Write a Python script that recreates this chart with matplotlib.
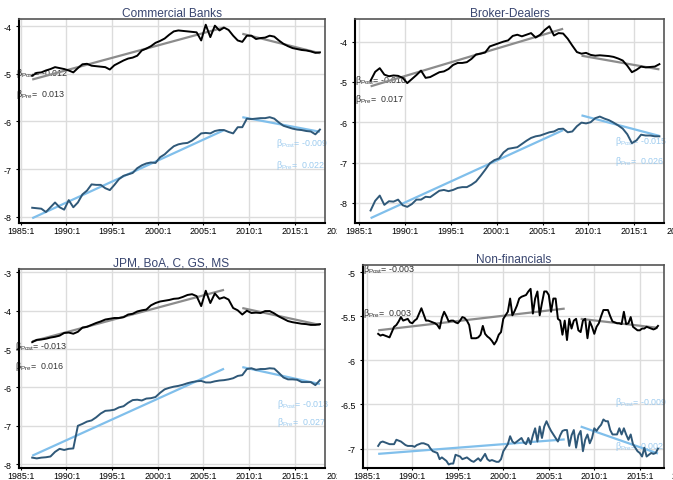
import matplotlib
matplotlib.use('Agg')
import matplotlib.pyplot as plt
import numpy as np
from matplotlib.transforms import offset_copy, Bbox, TransformedBbox

plt.rcParams['font.family'] = ['Liberation Sans', 'DejaVu Sans']
plt.rcParams['mathtext.fontset'] = 'custom'
plt.rcParams['mathtext.rm'] = 'Liberation Sans'
plt.rcParams['mathtext.it'] = 'Liberation Sans:italic'

# half-yearly observations for the bank panels, quarterly for non-financials
dates_half = 1986.25 + 0.5 * np.arange(64)
dates_nf = 1986.25 + 0.25 * np.arange(124)

cb_black = [-5.04, -4.98, -4.97, -4.93, -4.90, -4.86, -4.88, -4.90,
            -4.93, -4.97, -4.88, -4.80, -4.79, -4.83, -4.84, -4.85,
            -4.86, -4.91, -4.82, -4.77, -4.72, -4.68, -4.66, -4.62,
            -4.51, -4.47, -4.42, -4.35, -4.31, -4.26, -4.18, -4.11,
            -4.09, -4.10, -4.11, -4.12, -4.13, -4.30, -3.97, -4.23,
            -3.99, -4.09, -4.03, -4.08, -4.20, -4.30, -4.33, -4.20,
            -4.20, -4.27, -4.25, -4.24, -4.20, -4.22, -4.30, -4.37,
            -4.42, -4.46, -4.48, -4.50, -4.51, -4.53, -4.56, -4.55]
cb_blue = [-7.81, -7.82, -7.83, -7.90, -7.80, -7.70, -7.80, -7.85,
           -7.65, -7.80, -7.70, -7.53, -7.45, -7.32, -7.33, -7.33,
           -7.40, -7.44, -7.33, -7.21, -7.14, -7.11, -7.08, -6.98,
           -6.92, -6.88, -6.86, -6.87, -6.75, -6.69, -6.60, -6.52,
           -6.48, -6.46, -6.45, -6.40, -6.33, -6.25, -6.24, -6.25,
           -6.20, -6.18, -6.18, -6.22, -6.25, -6.12, -6.12, -5.94,
           -5.95, -5.94, -5.93, -5.93, -5.91, -5.94, -6.02, -6.09,
           -6.12, -6.15, -6.17, -6.18, -6.20, -6.21, -6.27, -6.17]

bd_black = [-4.97, -4.75, -4.66, -4.82, -4.86, -4.84, -4.85, -4.90,
            -5.03, -4.93, -4.83, -4.72, -4.90, -4.88, -4.82, -4.76,
            -4.74, -4.68, -4.58, -4.53, -4.53, -4.51, -4.43, -4.32,
            -4.30, -4.27, -4.12, -4.08, -4.04, -4.00, -3.97, -3.86,
            -3.83, -3.87, -3.83, -3.79, -3.90, -3.83, -3.71, -3.62,
            -3.85, -3.79, -3.80, -3.93, -4.10, -4.26, -4.30, -4.28,
            -4.33, -4.35, -4.34, -4.35, -4.36, -4.38, -4.42, -4.47,
            -4.60, -4.76, -4.70, -4.62, -4.64, -4.63, -4.62, -4.56]
bd_blue = [-8.19, -7.95, -7.82, -8.05, -7.96, -7.97, -7.92, -8.06,
           -8.10, -8.03, -7.92, -7.92, -7.85, -7.86, -7.78, -7.70,
           -7.68, -7.71, -7.68, -7.63, -7.61, -7.61, -7.55, -7.47,
           -7.33, -7.18, -7.02, -6.94, -6.90, -6.75, -6.66, -6.64,
           -6.62, -6.54, -6.46, -6.39, -6.35, -6.33, -6.29, -6.25,
           -6.23, -6.17, -6.16, -6.25, -6.23, -6.10, -6.01, -6.03,
           -6.00, -5.90, -5.86, -5.91, -5.95, -6.01, -6.08, -6.16,
           -6.30, -6.52, -6.45, -6.31, -6.33, -6.33, -6.35, -6.35]

big5_black = [-4.82, -4.76, -4.75, -4.73, -4.70, -4.68, -4.65, -4.58,
              -4.57, -4.60, -4.55, -4.44, -4.42, -4.37, -4.32, -4.28,
              -4.23, -4.21, -4.19, -4.19, -4.17, -4.10, -4.08, -4.02,
              -3.99, -3.97, -3.86, -3.80, -3.76, -3.74, -3.72, -3.69,
              -3.68, -3.64, -3.59, -3.57, -3.62, -3.88, -3.48, -3.80,
              -3.55, -3.69, -3.65, -3.71, -3.93, -3.99, -4.10, -4.00,
              -4.06, -4.05, -4.06, -4.01, -4.01, -4.07, -4.15, -4.21,
              -4.27, -4.30, -4.32, -4.34, -4.35, -4.37, -4.37, -4.35]
big5_blue = [-7.83, -7.85, -7.83, -7.82, -7.80, -7.68, -7.60, -7.63,
             -7.60, -7.59, -7.00, -6.95, -6.89, -6.86, -6.78, -6.68,
             -6.61, -6.60, -6.58, -6.52, -6.49, -6.40, -6.33, -6.32,
             -6.34, -6.29, -6.28, -6.25, -6.14, -6.05, -6.01, -5.98,
             -5.96, -5.93, -5.89, -5.86, -5.84, -5.83, -5.87, -5.87,
             -5.84, -5.82, -5.81, -5.79, -5.76, -5.70, -5.68, -5.52,
             -5.50, -5.54, -5.52, -5.52, -5.50, -5.51, -5.62, -5.74,
             -5.79, -5.79, -5.80, -5.86, -5.86, -5.86, -5.94, -5.81]

nf_black = [-5.70, -5.72, -5.71, -5.72, -5.73, -5.74, -5.68, -5.62,
            -5.60, -5.56, -5.51, -5.55, -5.54, -5.53, -5.57, -5.58,
            -5.55, -5.53, -5.47, -5.41, -5.48, -5.55, -5.55, -5.56,
            -5.57, -5.58, -5.60, -5.64, -5.52, -5.45, -5.50, -5.56,
            -5.55, -5.55, -5.57, -5.58, -5.55, -5.51, -5.52, -5.55,
            -5.60, -5.75, -5.75, -5.75, -5.74, -5.71, -5.61, -5.70,
            -5.73, -5.75, -5.78, -5.82, -5.78, -5.71, -5.68, -5.53,
            -5.49, -5.45, -5.30, -5.49, -5.44, -5.38, -5.30, -5.28,
            -5.27, -5.26, -5.22, -5.19, -5.47, -5.30, -5.22, -5.49,
            -5.35, -5.22, -5.22, -5.26, -5.45, -5.30, -5.30, -5.53,
            -5.55, -5.71, -5.55, -5.77, -5.53, -5.64, -5.55, -5.53,
            -5.66, -5.68, -5.55, -5.53, -5.75, -5.56, -5.62, -5.70,
            -5.62, -5.58, -5.50, -5.43, -5.43, -5.43, -5.50, -5.56,
            -5.57, -5.58, -5.58, -5.59, -5.45, -5.59, -5.58, -5.51,
            -5.62, -5.64, -5.66, -5.66, -5.64, -5.64, -5.62, -5.63,
            -5.64, -5.65, -5.64, -5.61]
nf_blue = [-6.97, -6.93, -6.92, -6.93, -6.94, -6.95, -6.95, -6.95,
           -6.90, -6.91, -6.92, -6.94, -6.96, -6.97, -6.97, -6.97,
           -6.98, -6.96, -6.95, -6.94, -6.94, -6.95, -6.96, -7.00,
           -7.03, -7.04, -7.05, -7.12, -7.10, -7.12, -7.14, -7.18,
           -7.17, -7.17, -7.07, -7.08, -7.09, -7.12, -7.11, -7.10,
           -7.12, -7.14, -7.15, -7.13, -7.11, -7.14, -7.10, -7.06,
           -7.12, -7.14, -7.13, -7.14, -7.15, -7.15, -7.12, -7.03,
           -6.99, -6.95, -6.86, -6.92, -6.94, -6.92, -6.90, -6.88,
           -6.93, -6.95, -6.88, -6.95, -6.85, -6.77, -6.92, -6.75,
           -6.88, -6.75, -6.69, -6.75, -6.80, -6.84, -6.88, -6.92,
           -6.85, -6.80, -6.79, -6.79, -6.97, -6.85, -6.79, -6.99,
           -6.85, -6.80, -7.03, -6.90, -6.84, -6.94, -6.88, -6.77,
           -6.80, -6.76, -6.73, -6.67, -6.69, -6.69, -6.79, -6.84,
           -6.84, -6.84, -6.77, -6.84, -6.77, -6.84, -6.90, -6.84,
           -6.95, -6.99, -7.03, -7.05, -7.09, -6.99, -7.09, -7.07,
           -7.05, -7.06, -7.05, -7.00]

titles = ['Commercial Banks', 'Broker-Dealers', 'JPM, BoA, C, GS, MS', 'Non-financials']

# quarterly trend slopes and the level each trend starts from
beta_pre_black = [0.013, 0.017, 0.016, 0.003]
beta_post_black = [-0.012, -0.010, -0.013, -0.003]
beta_pre_blue = [0.022, 0.026, 0.027, 0.002]
beta_post_blue = [-0.009, -0.015, -0.013, -0.009]
start_pre_black = [-5.12, -5.11, -4.80, -5.66]
start_post_black = [-4.16, -4.35, -3.93, -5.53]
start_pre_blue = [-8.03, -8.38, -7.78, -7.06]
start_post_blue = [-5.91, -5.83, -5.47, -6.75]

DARK_BLUE = '#2f5878'
LIGHT_BLUE = '#80bfeb'
TREND_GRAY = '#8c8c8c'
LABEL_GRAY = '#333333'
LABEL_BLUE = '#9dcbef'
TITLE_COL = '#38456f'
FS = 6.4

W, H = 673.0, 481.0


def rect(left, right, top, bottom):
    return [left / W, 1 - bottom / H, (right - left) / W, (bottom - top) / H]


panels = [
    dict(rect=rect(18.5, 324.5, 20, 224), xlim=(1984.75, 2018.25), ylim=(-8.13, -3.85),
         yticks=[-8, -7, -6, -5, -4], dates=dates_half, black=cb_black, blue=cb_blue,
         pre=(1986.25, 2007.25), post=(2009.25, 2017.75),
         lab_black=(1984.48, -4.97, -5.42), lab_blue=(2012.95, -6.44, -6.9), clip=336.5),
    dict(rect=rect(355, 664, 20, 224), xlim=(1984.55, 2018.25), ylim=(-8.5, -3.44),
         yticks=[-8, -7, -6, -5, -4], dates=dates_half, black=bd_black, blue=bd_blue,
         pre=(1986.25, 2007.25), post=(2009.25, 2017.75),
         lab_black=(1984.6, -4.93, -5.40), lab_blue=(2012.9, -6.45, -6.95), clip=None),
    dict(rect=rect(18.5, 324.5, 269.5, 469), xlim=(1984.75, 2018.25), ylim=(-8.1, -2.9),
         yticks=[-8, -7, -6, -5, -4, -3], dates=dates_half, black=big5_black, blue=big5_blue,
         pre=(1986.25, 2007.25), post=(2009.25, 2017.75),
         lab_black=(1984.4, -4.92, -5.42), lab_blue=(2013.0, -6.42, -6.89), clip=336.5),
    dict(rect=rect(362.7, 664, 266, 469), xlim=(1984.55, 2017.66), ylim=(-7.22, -4.92),
         yticks=[-7, -6.5, -6, -5.5, -5], dates=dates_nf, black=nf_black, blue=nf_blue,
         pre=(1986.25, 2006.75), post=(2008.5, 2017.0),
         lab_black=(1984.6, -4.955, -5.46), lab_blue=(2012.3, -6.47, -6.96), clip=None),
]

fig = plt.figure(figsize=(6.73, 4.81), dpi=100)

for i, p in enumerate(panels):
    ax = fig.add_axes(p['rect'])
    ax.set_xlim(*p['xlim'])
    ax.set_ylim(*p['ylim'])

    # pre- and post-crisis linear trends, slope given per quarter
    for (t0, t1), a, b, col in [(p['pre'], start_pre_black[i], beta_pre_black[i], TREND_GRAY),
                                (p['post'], start_post_black[i], beta_post_black[i], TREND_GRAY),
                                (p['pre'], start_pre_blue[i], beta_pre_blue[i], LIGHT_BLUE),
                                (p['post'], start_post_blue[i], beta_post_blue[i], LIGHT_BLUE)]:
        xs = np.array([t0, t1])
        ax.plot(xs, a + b * 4 * (xs - t0), color=col, lw=1.6, zorder=3, solid_capstyle='butt')

    ax.plot(p['dates'], p['black'], color='black', lw=1.4, zorder=4)
    ax.plot(p['dates'], p['blue'], color=DARK_BLUE, lw=1.4, zorder=4)

    xb, yb1, yb2 = p['lab_black']
    ax.text(xb, yb1, r'$\mathrm{\beta}_{\mathrm{Post}}$= %.3f' % beta_post_black[i],
            color=LABEL_GRAY, fontsize=FS, va='center', ha='left', zorder=2, clip_on=False)
    ax.text(xb, yb2, r'$\mathrm{\beta}_{\mathrm{Pre}}$=  %.3f' % beta_pre_black[i],
            color=LABEL_GRAY, fontsize=FS, va='center', ha='left', zorder=2, clip_on=False)
    xl, yl1, yl2 = p['lab_blue']
    ax.text(xl, yl1, r'$\mathrm{\beta}_{\mathrm{Post}}$= %.3f' % beta_post_blue[i],
            color=LABEL_BLUE, fontsize=FS, va='center', ha='left', zorder=2, clip_on=False)
    ax.text(xl, yl2, r'$\mathrm{\beta}_{\mathrm{Pre}}$=  %.3f' % beta_pre_blue[i],
            color=LABEL_BLUE, fontsize=FS, va='center', ha='left', zorder=2, clip_on=False)

    years = list(range(1985, 2020, 5))
    ax.set_xticks(years)
    ax.set_xticklabels(['%d:1' % y for y in years])
    ax.set_yticks(p['yticks'])
    ax.set_yticklabels(['%g' % v for v in p['yticks']])
    ax.tick_params(axis='x', direction='out', length=1.5, width=0.8, labelsize=FS, pad=0.5)
    ax.tick_params(axis='y', direction='out', length=2, width=0.8, labelsize=FS, pad=3)

    ax.grid(True, color='#dcdcdc', lw=1.0)
    ax.set_axisbelow(True)
    for side in ['left', 'bottom']:
        ax.spines[side].set_color('black')
        ax.spines[side].set_linewidth(1.5)
    for side in ['top', 'right']:
        ax.spines[side].set_color('#555555')
        ax.spines[side].set_linewidth(1.2)

    ax.set_title(titles[i], fontsize=8.6, color=TITLE_COL, pad=2.5)

    # the 2020:1 label sits past the axis end and is cut off at the panel edge
    trans = offset_copy(ax.get_xaxis_transform(), fig=fig, y=-2, units='points')
    t = fig.text(2020, 0, '2020:1', transform=trans, ha='center', va='top', fontsize=FS)
    if p['clip'] is not None:
        t.set_clip_box(TransformedBbox(Bbox([[0, 0], [p['clip'] / W, 1]]), fig.transFigure))
        t.set_clip_on(True)

fig.savefig('out.png', dpi=100)
